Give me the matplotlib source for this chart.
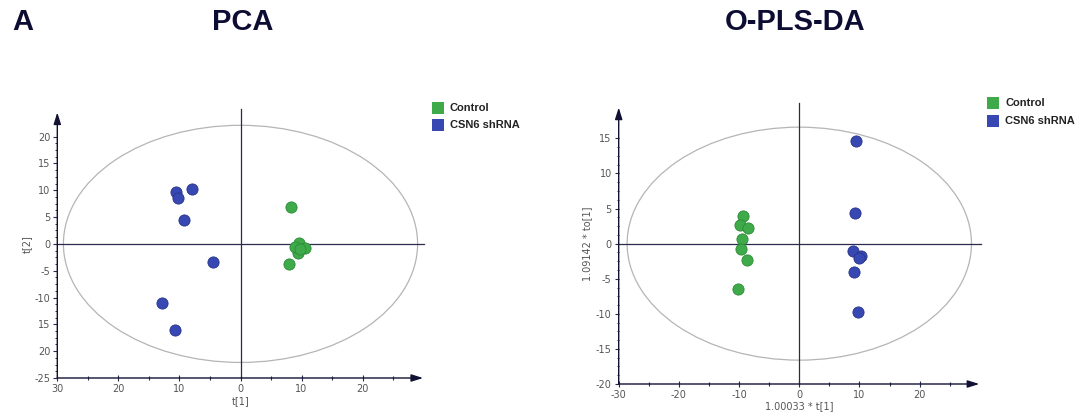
import matplotlib
matplotlib.use("Agg")
import matplotlib.pyplot as plt
from matplotlib.patches import Ellipse
import numpy as np

# ---------------- data ----------------
groups = ["Control", "CSN6 shRNA"]
colors = ["#3faa4a", "#3748b2"]
edge_colors = ["#2e8a38", "#28358a"]

pca_control_x = [8.2, 9.6, 10.6, 9.4, 9.0, 9.8, 8.0]
pca_control_y = [6.8, 0.2, -0.7, -1.7, -0.5, -0.9, -3.8]
pca_shrna_x = [-10.6, -10.3, -7.9, -9.3, -4.5, -12.9, -10.7]
pca_shrna_y = [9.7, 8.5, 10.2, 4.5, -3.4, -11.0, -16.1]

opls_control_x = [-9.3, -9.9, -8.5, -9.5, -9.7, -8.7, -10.2]
opls_control_y = [3.9, 2.6, 2.2, 0.7, -0.7, -2.3, -6.5]
opls_shrna_x = [9.4, 9.25, 9.0, 10.2, 9.85, 9.1, 9.8]
opls_shrna_y = [14.6, 4.4, -1.0, -1.7, -2.1, -4.1, -9.7]

pca_xticks = [-30, -20, -10, 0, 10, 20]
pca_xticklabels = ["30", "20", "10", "0", "10", "20"]
pca_yticks = [20, 15, 10, 5, 0, -5, -10, -15, -20, -25]
pca_yticklabels = ["20", "15", "10", "5", "0", "-5", "-10", "15", "20", "-25"]

opls_xticks = [-30, -20, -10, 0, 10, 20]
opls_xticklabels = ["-30", "-20", "-10", "0", "10", "20"]
opls_yticks = [15, 10, 5, 0, -5, -10, -15, -20]
opls_yticklabels = ["15", "10", "5", "0", "-5", "-10", "-15", "-20"]

pca_ellipse = (29.0, 22.1)
opls_ellipse = (28.6, 16.6)

# ---------------- figure ----------------
W, H = 1080, 419
fig = plt.figure(figsize=(W / 100, H / 100), dpi=100)
fig.patch.set_facecolor("white")

title_color = "#0d0d33"
axis_color = "#2b2b4d"
tick_color = "#555555"


def px_axes(x0, x1, y_bottom, y_top):
    return fig.add_axes([x0 / W, (H - y_bottom) / H, (x1 - x0) / W, (y_bottom - y_top) / H])


def setup(ax, xlim, ylim, xticks, xlabels, yticks, ylabels, xarrow, yarrow,
          vline_top, hline_right, ell, xlabel, ylabel, ylabel_pad):
    ax.set_xlim(*xlim)
    ax.set_ylim(*ylim)
    for s in ax.spines.values():
        s.set_visible(False)
    ax.set_facecolor("none")
    ax.add_patch(Ellipse((0, 0), 2 * ell[0], 2 * ell[1], fill=False,
                         edgecolor="#b5b5b5", linewidth=0.9, zorder=1))
    ax.plot([0, 0], [ylim[0], vline_top], color=axis_color, lw=0.9, zorder=2, clip_on=False)
    ax.plot([xlim[0], hline_right], [0, 0], color=axis_color, lw=0.9, zorder=2, clip_on=False)
    ax.annotate("", xy=(xarrow, ylim[0]), xytext=(xlim[0], ylim[0]),
                arrowprops=dict(arrowstyle="-|>,head_length=0.7,head_width=0.22",
                                color="#111133", lw=1.0, shrinkA=0, shrinkB=0),
                annotation_clip=False)
    ax.annotate("", xy=(xlim[0], yarrow), xytext=(xlim[0], ylim[0]),
                arrowprops=dict(arrowstyle="-|>,head_length=0.7,head_width=0.22",
                                color="#111133", lw=1.0, shrinkA=0, shrinkB=0),
                annotation_clip=False)
    ax.set_xticks(xticks)
    ax.set_xticklabels(xlabels)
    ax.set_yticks(yticks)
    ax.set_yticklabels(ylabels)
    ax.set_xticks(np.arange(xlim[0], xlim[1], 5), minor=True)
    ax.tick_params(axis="both", which="major", labelsize=7, colors=axis_color,
                   labelcolor=tick_color, length=3, width=0.8, pad=2)
    ax.tick_params(axis="x", which="major", direction="inout", length=4)
    ax.tick_params(axis="x", which="minor", direction="inout", length=3, width=0.8, colors=axis_color)
    ax.tick_params(axis="y", which="major", direction="out", length=3)
    ax.set_xlabel(xlabel, fontsize=7, color=tick_color, labelpad=2)
    ax.set_ylabel(ylabel, fontsize=7, color=tick_color, labelpad=ylabel_pad)


def minor_y(ax, lo, hi, step):
    ys = np.arange(lo, hi + 0.01, step)
    ax.set_yticks(ys, minor=True)
    ax.tick_params(axis="y", which="minor", direction="out", length=1.8, width=0.7, colors=axis_color)


# ----- PCA -----
ax1 = px_axes(57.3, 423.7, 378, 109.75)
setup(ax1, (-30, 30), (-25, 25), pca_xticks, pca_xticklabels, pca_yticks, pca_yticklabels,
      xarrow=29.9, yarrow=24.5, vline_top=25.2, hline_right=30.1, ell=pca_ellipse,
      xlabel="t[1]", ylabel="t[2]", ylabel_pad=2)
minor_y(ax1, -25, 20, 1.25)
ax1.scatter(pca_control_x, pca_control_y, s=65, c=colors[0], edgecolors=edge_colors[0],
            linewidths=0.6, zorder=3, clip_on=False)
ax1.scatter(pca_shrna_x, pca_shrna_y, s=65, c=colors[1], edgecolors=edge_colors[1],
            linewidths=0.6, zorder=3, clip_on=False)

# ----- O-PLS-DA -----
ax2 = px_axes(618.7, 979.9, 384, 103.3)
setup(ax2, (-30, 30), (-20, 20), opls_xticks, opls_xticklabels, opls_yticks, opls_yticklabels,
      xarrow=29.9, yarrow=19.4, vline_top=20.0, hline_right=30.1, ell=opls_ellipse,
      xlabel="1.00033 * t[1]", ylabel="1.09142 * to[1]", ylabel_pad=3)
minor_y(ax2, -20, 15, 1.25)
ax2.xaxis.set_label_coords(0.5, -0.06)
ax2.scatter(opls_control_x, opls_control_y, s=65, c=colors[0], edgecolors=edge_colors[0],
            linewidths=0.6, zorder=3, clip_on=False)
ax2.scatter(opls_shrna_x, opls_shrna_y, s=65, c=colors[1], edgecolors=edge_colors[1],
            linewidths=0.6, zorder=3, clip_on=False)

# ----- legends -----
def legend(x_sq, y_first, dy):
    for i, (g, c) in enumerate(zip(groups, colors)):
        y = y_first + i * dy
        fig.patches.append(plt.Rectangle(((x_sq) / W, (H - y - 6) / H), 12 / W, 12 / H,
                                         transform=fig.transFigure, facecolor=c,
                                         edgecolor="none", figure=fig))
        fig.text((x_sq + 18) / W, (H - y) / H, g, fontsize=8, fontweight="bold",
                 family="Liberation Sans", color="#222222", va="center", ha="left")

legend(432, 108, 17)
legend(987, 103, 18)

# ----- titles -----
fig.text(12 / W, (H - 22) / H, "A", fontsize=21, fontweight="bold",
         family="Liberation Sans", color=title_color, va="center", ha="left")
fig.text(243 / W, (H - 22) / H, "PCA", fontsize=21, fontweight="bold",
         family="Liberation Sans", color=title_color, va="center", ha="center")
fig.text(795 / W, (H - 22) / H, "O-PLS-DA", fontsize=21, fontweight="bold",
         family="Liberation Sans", color=title_color, va="center", ha="center")

fig.savefig("out.png", dpi=100, facecolor="white")
